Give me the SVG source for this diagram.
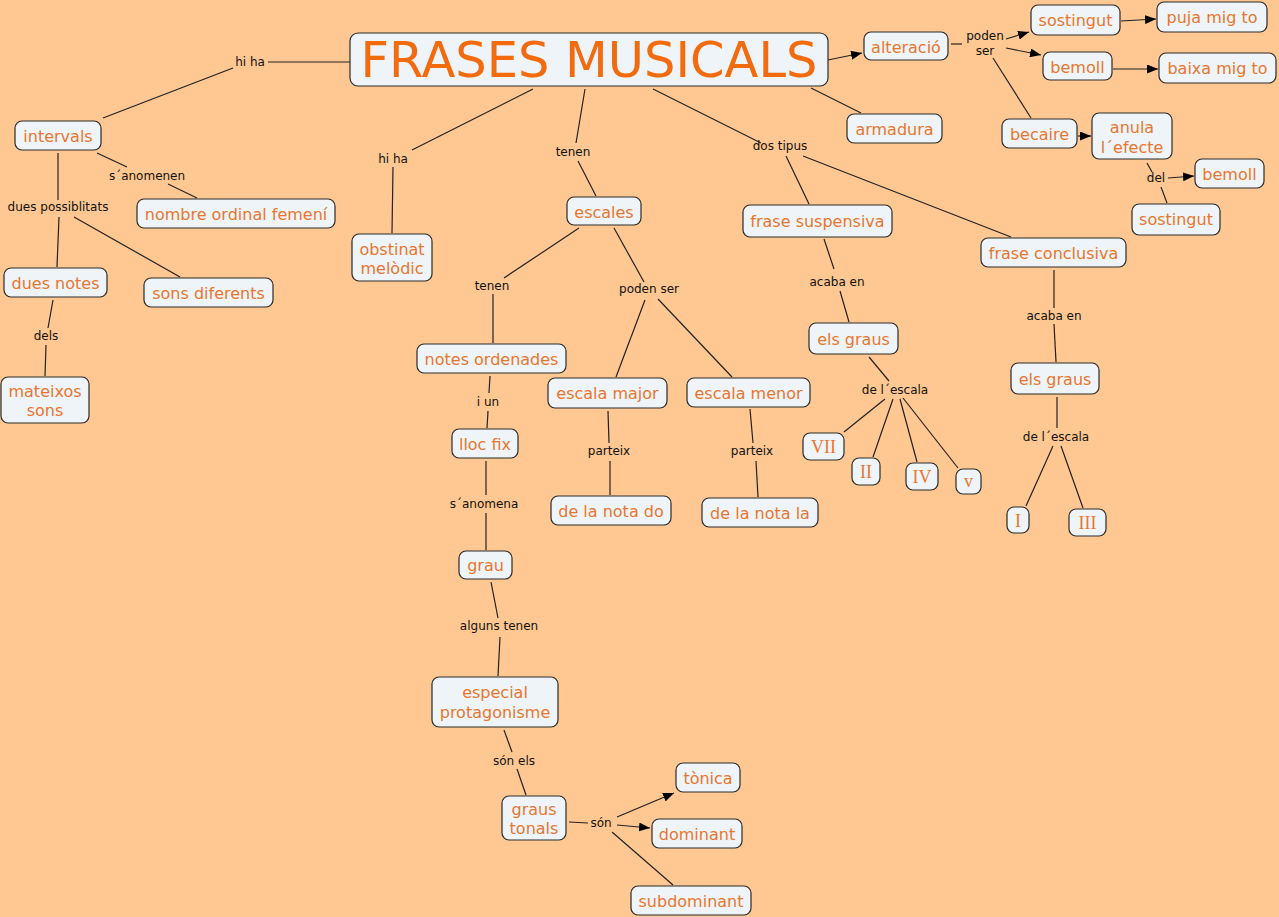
<svg xmlns="http://www.w3.org/2000/svg" width="1279" height="917" viewBox="0 0 1279 917">
<style>
.bg{fill:#FFC892}
.node rect{fill:#EEF4F7;stroke:#2a2a2a;stroke-width:1.2}
.node text{font-family:"DejaVu Sans",Verdana,sans-serif;font-size:16px;fill:#E8762F;text-anchor:middle;dominant-baseline:central}
.node text.r{font-family:"Liberation Serif","Times New Roman",serif;font-size:18px}
.node text.title{font-size:49.5px;fill:#F26B0F}
.lbl text{font-family:"DejaVu Sans",Verdana,sans-serif;font-size:12px;fill:#111;text-anchor:middle;dominant-baseline:central}
.conn line{stroke:#222;stroke-width:1.2}
.conn line.a{marker-end:url(#arr)}
</style>
<defs>
<marker id="arr" markerUnits="userSpaceOnUse" markerWidth="11" markerHeight="9" refX="11" refY="4.5" orient="auto">
<path d="M0,0 L11,4.5 L0,9 z" fill="#000"/>
</marker>
</defs>
<rect class="bg" x="0" y="0" width="1279" height="917"/>
<g id="connectors" class="conn">
<line x1="268" y1="62" x2="350" y2="62"/>
<line x1="233" y1="68" x2="103" y2="118"/>
<line x1="97" y1="153" x2="127" y2="167"/>
<line x1="168" y1="184" x2="197" y2="198"/>
<line x1="58" y1="153" x2="58" y2="200"/>
<line x1="59" y1="217" x2="57" y2="267"/>
<line x1="74" y1="217" x2="180" y2="277"/>
<line x1="53" y1="300" x2="48" y2="328"/>
<line x1="46" y1="345" x2="45" y2="376"/>
<line x1="533" y1="89" x2="412" y2="150"/>
<line x1="393" y1="167" x2="392" y2="233"/>
<line x1="585" y1="89" x2="576" y2="143"/>
<line x1="578" y1="161" x2="596" y2="196"/>
<line x1="579" y1="228" x2="504" y2="278"/>
<line x1="493" y1="294" x2="493" y2="343"/>
<line x1="614" y1="228" x2="644" y2="282"/>
<line x1="645" y1="300" x2="616" y2="377"/>
<line x1="658" y1="299" x2="732" y2="377"/>
<line x1="490" y1="376" x2="489" y2="393"/>
<line x1="488" y1="411" x2="487" y2="428"/>
<line x1="486" y1="461" x2="486" y2="495"/>
<line x1="486" y1="513" x2="486" y2="550"/>
<line x1="608" y1="411" x2="609" y2="443"/>
<line x1="610" y1="461" x2="610" y2="495"/>
<line x1="750" y1="409" x2="753" y2="443"/>
<line x1="756" y1="461" x2="758" y2="497"/>
<line x1="653" y1="89" x2="761" y2="143"/>
<line x1="786" y1="156" x2="809" y2="204"/>
<line x1="803" y1="156" x2="1011" y2="237"/>
<line x1="824" y1="239" x2="834" y2="269"/>
<line x1="840" y1="291" x2="849" y2="322"/>
<line x1="869" y1="357" x2="889" y2="381"/>
<line x1="885" y1="399" x2="844" y2="432"/>
<line x1="893" y1="399" x2="873" y2="457"/>
<line x1="900" y1="399" x2="917" y2="462"/>
<line x1="903" y1="398" x2="958" y2="468"/>
<line x1="1054" y1="270" x2="1054" y2="308"/>
<line x1="1054" y1="324" x2="1056" y2="362"/>
<line x1="1057" y1="397" x2="1057" y2="428"/>
<line x1="1053" y1="446" x2="1026" y2="506"/>
<line x1="1061" y1="446" x2="1083" y2="508"/>
<line x1="811" y1="88" x2="861" y2="113"/>
<line class="a" x1="828" y1="60" x2="862" y2="53"/>
<line x1="951" y1="44" x2="962" y2="44"/>
<line class="a" x1="1006" y1="39" x2="1029" y2="32"/>
<line class="a" x1="1006" y1="48" x2="1041" y2="55"/>
<line x1="993" y1="58" x2="1031" y2="118"/>
<line class="a" x1="1121" y1="21" x2="1156" y2="19"/>
<line class="a" x1="1113" y1="69" x2="1158" y2="69"/>
<line class="a" x1="1078" y1="136" x2="1091" y2="136"/>
<line x1="1147" y1="163" x2="1152" y2="172"/>
<line class="a" x1="1168" y1="178" x2="1194" y2="176"/>
<line x1="1161" y1="187" x2="1167" y2="203"/>
<line x1="491" y1="582" x2="498" y2="618"/>
<line x1="500" y1="637" x2="498" y2="676"/>
<line x1="504" y1="730" x2="512" y2="752"/>
<line x1="517" y1="769" x2="526" y2="795"/>
<line x1="569" y1="822" x2="588" y2="823"/>
<line class="a" x1="617" y1="817" x2="674" y2="793"/>
<line class="a" x1="617" y1="825" x2="650" y2="828"/>
<line x1="612" y1="832" x2="673" y2="885"/>
</g>
<g id="labels" class="lbl">
<text x="250" y="62">hi ha</text>
<text x="147" y="176">s´anomenen</text>
<text x="58" y="207">dues possiblitats</text>
<text x="46" y="336">dels</text>
<text x="393" y="159">hi ha</text>
<text x="573" y="152">tenen</text>
<text x="780" y="146">dos tipus</text>
<text x="985" y="36">poden</text>
<text x="985" y="51">ser</text>
<text x="1156" y="178">del</text>
<text x="492" y="286">tenen</text>
<text x="649" y="289">poden ser</text>
<text x="488" y="402">i un</text>
<text x="484" y="504">s´anomena</text>
<text x="609" y="451">parteix</text>
<text x="752" y="451">parteix</text>
<text x="837" y="282">acaba en</text>
<text x="895" y="390">de l´escala</text>
<text x="1054" y="316">acaba en</text>
<text x="1056" y="437">de l´escala</text>
<text x="499" y="626">alguns tenen</text>
<text x="514" y="761">són els</text>
<text x="601" y="823">són</text>
</g>
<g id="n-title" class="node"><rect x="350" y="33" width="478" height="53" rx="8"/><text class="title" x="589" y="60">FRASES MUSICALS</text></g>
<g id="n-alteracio" class="node"><rect x="864" y="32" width="84" height="28" rx="7"/><text x="906" y="47">alteració</text></g>
<g id="n-sostingut1" class="node"><rect x="1031" y="5" width="89" height="30" rx="7"/><text x="1075.5" y="20">sostingut</text></g>
<g id="n-puja" class="node"><rect x="1157" y="2" width="110" height="30" rx="7"/><text x="1212" y="17">puja mig to</text></g>
<g id="n-bemoll1" class="node"><rect x="1043" y="52" width="69" height="28" rx="7"/><text x="1077.5" y="67">bemoll</text></g>
<g id="n-baixa" class="node"><rect x="1159" y="53" width="117" height="30" rx="7"/><text x="1217.5" y="68">baixa mig to</text></g>
<g id="n-armadura" class="node"><rect x="847" y="114" width="95" height="29" rx="7"/><text x="894.5" y="129.5">armadura</text></g>
<g id="n-becaire" class="node"><rect x="1002" y="119" width="75" height="29" rx="7"/><text x="1039.5" y="134.5">becaire</text></g>
<g id="n-anula" class="node"><rect x="1092" y="113" width="80" height="46" rx="7"/><text x="1132" y="127">anula</text><text x="1132" y="147">l´efecte</text></g>
<g id="n-bemoll2" class="node"><rect x="1195" y="159" width="69" height="29" rx="7"/><text x="1229.5" y="174.5">bemoll</text></g>
<g id="n-sostingut2" class="node"><rect x="1132" y="204" width="88" height="31" rx="7"/><text x="1176" y="219.5">sostingut</text></g>
<g id="n-intervals" class="node"><rect x="15" y="121" width="86" height="29" rx="7"/><text x="58" y="136.5">intervals</text></g>
<g id="n-nombre" class="node"><rect x="137" y="199" width="198" height="29" rx="7"/><text x="236" y="214.5">nombre ordinal femení</text></g>
<g id="n-duesnotes" class="node"><rect x="4" y="268" width="103" height="29" rx="7"/><text x="55.5" y="283.5">dues notes</text></g>
<g id="n-sonsdiferents" class="node"><rect x="144" y="278" width="129" height="29" rx="7"/><text x="208.5" y="293.5">sons diferents</text></g>
<g id="n-mateixos" class="node"><rect x="1" y="377" width="88" height="46" rx="7"/><text x="45" y="391">mateixos</text><text x="45" y="410">sons</text></g>
<g id="n-obstinat" class="node"><rect x="352" y="234" width="80" height="47" rx="7"/><text x="392" y="249">obstinat</text><text x="392" y="268">melòdic</text></g>
<g id="n-escales" class="node"><rect x="567" y="197" width="74" height="28" rx="7"/><text x="604" y="212">escales</text></g>
<g id="n-notesordenades" class="node"><rect x="417" y="344" width="149" height="29" rx="7"/><text x="491.5" y="359.5">notes ordenades</text></g>
<g id="n-escalamajor" class="node"><rect x="548" y="378" width="119" height="30" rx="7"/><text x="607.5" y="393">escala major</text></g>
<g id="n-escalamenor" class="node"><rect x="687" y="378" width="123" height="29" rx="7"/><text x="748.5" y="393.5">escala menor</text></g>
<g id="n-llocfix" class="node"><rect x="452" y="429" width="66" height="29" rx="7"/><text x="485" y="444.5">lloc fix</text></g>
<g id="n-notado" class="node"><rect x="551" y="496" width="120" height="29" rx="7"/><text x="611" y="511.5">de la nota do</text></g>
<g id="n-notala" class="node"><rect x="702" y="498" width="116" height="29" rx="7"/><text x="760" y="513.5">de la nota la</text></g>
<g id="n-suspensiva" class="node"><rect x="743" y="205" width="149" height="32" rx="7"/><text x="817.5" y="221">frase suspensiva</text></g>
<g id="n-conclusiva" class="node"><rect x="981" y="238" width="145" height="29" rx="7"/><text x="1053.5" y="253.5">frase conclusiva</text></g>
<g id="n-graus1" class="node"><rect x="809" y="323" width="89" height="31" rx="7"/><text x="853.5" y="339">els graus</text></g>
<g id="n-VII" class="node"><rect x="803" y="433" width="41" height="27" rx="7"/><text class="r" x="823.5" y="447">VII</text></g>
<g id="n-II" class="node"><rect x="852" y="458" width="28" height="27" rx="7"/><text class="r" x="866" y="472">II</text></g>
<g id="n-IV" class="node"><rect x="906" y="463" width="32" height="27" rx="7"/><text class="r" x="922" y="477">IV</text></g>
<g id="n-v" class="node"><rect x="956" y="469" width="25" height="25" rx="7"/><text class="r" x="968.5" y="481">v</text></g>
<g id="n-graus2" class="node"><rect x="1011" y="363" width="88" height="31" rx="7"/><text x="1055" y="379">els graus</text></g>
<g id="n-I" class="node"><rect x="1007" y="507" width="22" height="26" rx="7"/><text class="r" x="1018" y="520.5">I</text></g>
<g id="n-III" class="node"><rect x="1069" y="509" width="37" height="27" rx="7"/><text class="r" x="1087.5" y="523">III</text></g>
<g id="n-grau" class="node"><rect x="459" y="551" width="53" height="28" rx="7"/><text x="485.5" y="565">grau</text></g>
<g id="n-especial" class="node"><rect x="432" y="677" width="126" height="50" rx="7"/><text x="495" y="692">especial</text><text x="495" y="712">protagonisme</text></g>
<g id="n-grausTonals" class="node"><rect x="502" y="796" width="64" height="44" rx="7"/><text x="534" y="809">graus</text><text x="534" y="828">tonals</text></g>
<g id="n-tonica" class="node"><rect x="676" y="763" width="64" height="29" rx="7"/><text x="708" y="778.5">tònica</text></g>
<g id="n-dominant" class="node"><rect x="652" y="819" width="90" height="29" rx="7"/><text x="697" y="834.5">dominant</text></g>
<g id="n-subdominant" class="node"><rect x="631" y="886" width="120" height="29" rx="7"/><text x="691" y="901.5">subdominant</text></g>
</svg>
